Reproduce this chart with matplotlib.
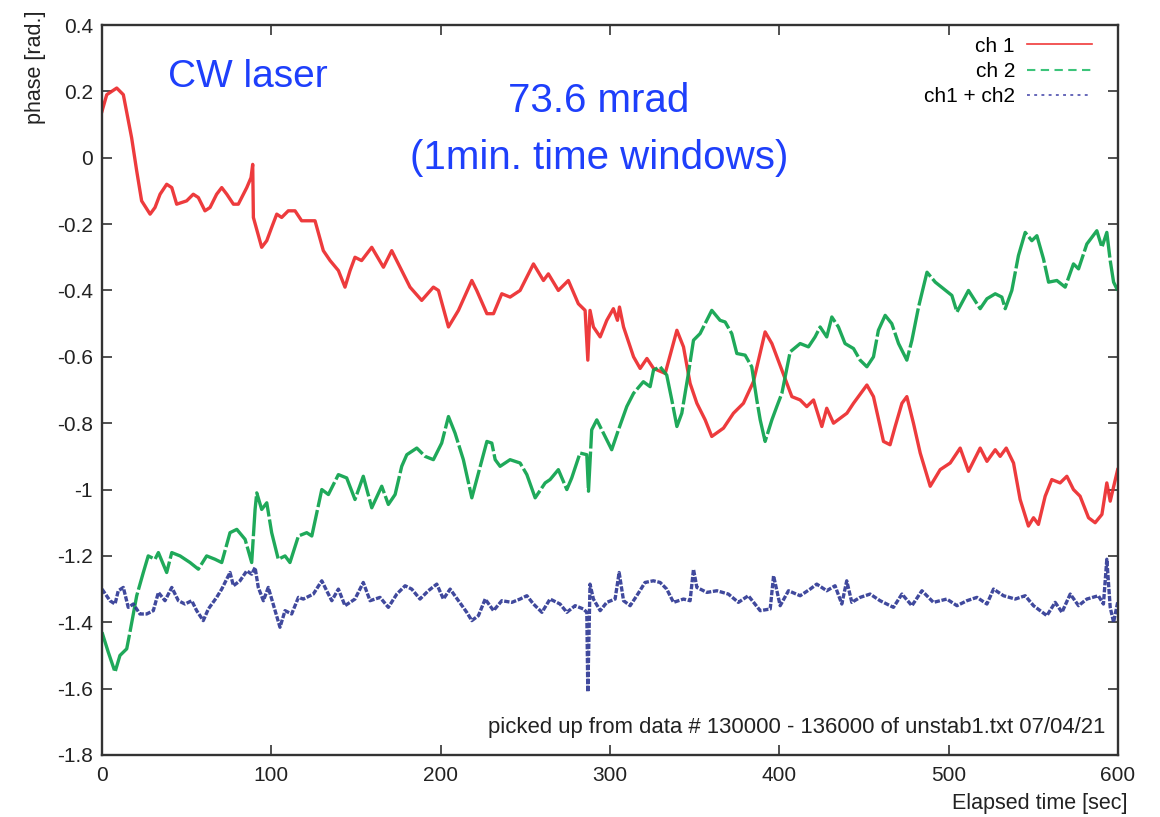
import numpy as np
import matplotlib
matplotlib.use("Agg")
import matplotlib.pyplot as plt
from matplotlib.lines import Line2D

plt.rcParams['font.family'] = ['Liberation Sans', 'DejaVu Sans']
plt.rcParams['axes.unicode_minus'] = False

# phase of channel 1 [rad.] vs elapsed time [sec]
t_ch1 = [0, 2.8, 8.7, 12.6, 17.5, 20.5, 23.4, 28.4, 31.3, 34.3, 38.2, 41.2, 44.1, 50, 53.9,
         56.9, 60.8, 63.8, 67.7, 70.7, 73.7, 77.6, 80.5, 85.5, 88.0, 89.0, 89.4, 94.3, 97.3,
         100.2, 103.2, 106.1, 110, 114, 117.9, 122.8, 125.8, 130.7, 134.7, 139.6, 143.5,
         146.5, 149.4, 153.3, 159.3, 166.2, 171.1, 177, 181.9, 188.8, 195.7, 198.7, 204.6,
         210.5, 218.4, 221.3, 227.3, 231.2, 236.1, 241, 246.9, 254.8, 260.7, 263.6, 269.5,
         275.4, 281.3, 285.3, 286.9, 288.2, 290.2, 294.2, 298.1, 302, 304.4, 305.6, 308,
         313.9, 317.8, 321.8, 325.7, 332.6, 339.5, 343.4, 347.3, 351.3, 356.2, 360.1, 367,
         372.9, 378.8, 384.7, 391.6, 395.6, 401.5, 407.4, 412.3, 416.2, 420.2, 425.1, 428,
         432, 439.9, 443.8, 451.7, 455.6, 461.5, 465.4, 468.4, 472.4, 475.3, 479.2, 483.2,
         489.1, 495, 500.9, 506.8, 511.7, 518.6, 522.6, 527.5, 530.4, 534, 538.3, 542.2,
         547.1, 550.1, 553, 557, 560.9, 565.8, 569.8, 573.7, 577.6, 582.6, 586.5, 590.5,
         593.4, 595.4, 599.8]
ch1 = [0.14, 0.19, 0.21, 0.19, 0.06, -0.04, -0.13, -0.17, -0.15, -0.11, -0.08, -0.09, -0.14,
       -0.13, -0.11, -0.12, -0.16, -0.15, -0.11, -0.09, -0.11, -0.14, -0.14, -0.09, -0.06,
       -0.02, -0.18, -0.27, -0.25, -0.21, -0.17, -0.18, -0.16, -0.16, -0.19, -0.19, -0.19,
       -0.28, -0.31, -0.34, -0.39, -0.34, -0.30, -0.31, -0.27, -0.33, -0.28, -0.34, -0.39,
       -0.43, -0.39, -0.40, -0.51, -0.46, -0.37, -0.40, -0.47, -0.47, -0.41, -0.42, -0.40,
       -0.32, -0.37, -0.35, -0.40, -0.37, -0.44, -0.46, -0.61, -0.46, -0.51, -0.54, -0.49,
       -0.455, -0.49, -0.45, -0.51, -0.60, -0.635, -0.605, -0.635, -0.65, -0.52, -0.57,
       -0.68, -0.74, -0.79, -0.84, -0.815, -0.77, -0.74, -0.675, -0.525, -0.56, -0.64,
       -0.72, -0.73, -0.75, -0.73, -0.81, -0.755, -0.80, -0.77, -0.74, -0.685, -0.72,
       -0.855, -0.865, -0.81, -0.74, -0.72, -0.80, -0.89, -0.99, -0.94, -0.92, -0.875,
       -0.945, -0.875, -0.915, -0.88, -0.90, -0.875, -0.92, -1.03, -1.11, -1.085, -1.105,
       -1.02, -0.97, -0.98, -0.96, -1.00, -1.02, -1.085, -1.10, -1.075, -0.98, -1.035, -0.94]

# phase of channel 2
t_ch2 = [0, 3.7, 7.7, 10.6, 14.6, 16.5, 20.5, 24.4, 27.3, 31.3, 33.3, 38.2, 41.2, 46.1, 52,
         56.9, 61.8, 66.7, 70.7, 75.6, 79.6, 84.5, 88.4, 90.4, 91.4, 94.3, 97.3, 100.2,
         104.1, 108.1, 111, 116, 120.9, 123.9, 129.8, 133.7, 139.6, 144.5, 149.4, 154.3,
         159.3, 165.2, 169.1, 173.1, 177, 180, 185.9, 190.8, 195.7, 200.6, 204.6, 208.5,
         213.4, 218.4, 222.3, 227.3, 230.2, 232.2, 235.1, 241, 246.9, 250.9, 255.8, 261.7,
         264.6, 269.5, 274.5, 277.4, 282.3, 286.3, 287.3, 289.2, 292.2, 297.1, 301, 305,
         309.9, 313.9, 319.7, 323.7, 325.7, 329.6, 333.5, 336.5, 339.5, 342.4, 346.3, 349.3,
         353.2, 360.1, 365, 368, 371.9, 374.9, 379.8, 383.7, 386.7, 388.7, 391.6, 395.6,
         398.5, 401.5, 406.4, 412.3, 417.2, 421.1, 424.1, 428, 431, 434.9, 438.8, 443.8,
         447.7, 451.7, 455.6, 458.5, 462.5, 466.4, 470.4, 475.3, 478.3, 482.2, 487.2, 492.1,
         497, 501.9, 504.9, 511.7, 518.6, 522.6, 527.5, 531.4, 533.4, 537.3, 541.2, 545.2,
         549.1, 552.1, 556, 559, 563.9, 568.8, 573.7, 576.7, 581.6, 587.5, 590.5, 593.4,
         595.4, 597.4, 599.8]
ch2 = [-1.43, -1.49, -1.55, -1.50, -1.48, -1.43, -1.32, -1.25, -1.20, -1.21, -1.19, -1.25,
       -1.19, -1.20, -1.22, -1.24, -1.20, -1.21, -1.22, -1.13, -1.12, -1.15, -1.22, -1.06,
       -1.01, -1.06, -1.04, -1.13, -1.21, -1.20, -1.22, -1.14, -1.13, -1.14, -1.00, -1.015,
       -0.955, -0.965, -1.03, -0.96, -1.055, -0.99, -1.045, -1.015, -0.93, -0.895, -0.875,
       -0.90, -0.91, -0.86, -0.78, -0.83, -0.91, -1.025, -0.95, -0.855, -0.86, -0.91, -0.93,
       -0.91, -0.92, -0.955, -1.025, -0.98, -0.97, -0.94, -1.00, -0.965, -0.89, -0.895,
       -1.005, -0.82, -0.79, -0.84, -0.88, -0.82, -0.75, -0.71, -0.675, -0.69, -0.64, -0.63,
       -0.655, -0.73, -0.81, -0.77, -0.65, -0.55, -0.53, -0.46, -0.49, -0.495, -0.53, -0.59,
       -0.595, -0.63, -0.73, -0.79, -0.855, -0.79, -0.75, -0.71, -0.585, -0.56, -0.57,
       -0.54, -0.51, -0.54, -0.48, -0.51, -0.56, -0.575, -0.61, -0.63, -0.60, -0.52, -0.475,
       -0.50, -0.56, -0.61, -0.55, -0.45, -0.345, -0.375, -0.395, -0.415, -0.465, -0.40,
       -0.455, -0.425, -0.41, -0.42, -0.455, -0.40, -0.295, -0.225, -0.25, -0.235, -0.305,
       -0.375, -0.37, -0.39, -0.32, -0.335, -0.26, -0.22, -0.27, -0.225, -0.31, -0.375, -0.40]

# ch1 + ch2
t_sum = [0, 4.7, 7.7, 9.6, 12.6, 15.5, 18.5, 22.4, 26.4, 30.3, 33.3, 37.2, 41.2, 45.1, 49,
         53, 55.9, 59.8, 62.8, 67.7, 70.7, 75.6, 77.6, 81.5, 85.5, 88.4, 90.4, 92.3, 95.3,
         98.2, 101.1, 105.1, 108.1, 112, 116, 118.9, 124.8, 129.8, 132.7, 135.7, 139.6,
         143.5, 149.4, 154.3, 158.3, 164.2, 169.1, 174.1, 179, 182.9, 187.8, 192.7, 197.7,
         201.6, 205.6, 210.5, 215.4, 218.4, 222.3, 226.3, 231.2, 236.1, 242, 246.9, 250.9,
         254.8, 259.8, 264.6, 270.5, 274.5, 279.4, 284.3, 286.3, 286.9, 288.2, 290.2, 294.2,
         298.1, 303, 305.4, 308, 311.9, 315.8, 320.7, 325.6, 329.6, 333.5, 337.5, 343.4,
         347.3, 349.3, 351.3, 357.2, 363.1, 369.9, 375.8, 381.7, 388.7, 394.6, 396.6, 400.5,
         405.4, 412.3, 418.2, 422.1, 428, 432.9, 436.9, 439.8, 442.8, 447.7, 453.6, 459.5,
         467.4, 472.4, 478.3, 484.2, 491, 498.9, 504.9, 510.8, 516.7, 522.6, 526.5, 532.4,
         539.3, 545.2, 550.1, 558, 562.9, 566.9, 571.8, 576.7, 581.6, 588.4, 591.4, 593.4,
         595.4, 597.4, 599.8]
ch_sum = [-1.30, -1.335, -1.345, -1.305, -1.295, -1.355, -1.345, -1.375, -1.375, -1.365,
          -1.31, -1.335, -1.295, -1.335, -1.345, -1.335, -1.365, -1.395, -1.36, -1.325,
          -1.30, -1.25, -1.29, -1.275, -1.245, -1.255, -1.235, -1.295, -1.335, -1.295,
          -1.345, -1.415, -1.365, -1.375, -1.325, -1.33, -1.315, -1.275, -1.305, -1.335,
          -1.30, -1.35, -1.33, -1.28, -1.335, -1.325, -1.355, -1.315, -1.29, -1.30, -1.33,
          -1.305, -1.285, -1.33, -1.30, -1.335, -1.37, -1.395, -1.38, -1.33, -1.365, -1.335,
          -1.34, -1.33, -1.32, -1.345, -1.37, -1.33, -1.345, -1.37, -1.35, -1.36, -1.37,
          -1.61, -1.285, -1.33, -1.365, -1.34, -1.33, -1.25, -1.335, -1.35, -1.32, -1.28,
          -1.275, -1.28, -1.30, -1.34, -1.33, -1.335, -1.24, -1.295, -1.31, -1.305, -1.315,
          -1.34, -1.32, -1.365, -1.36, -1.26, -1.35, -1.305, -1.32, -1.30, -1.285, -1.305,
          -1.29, -1.345, -1.275, -1.34, -1.325, -1.315, -1.335, -1.355, -1.315, -1.35,
          -1.305, -1.34, -1.33, -1.35, -1.335, -1.325, -1.345, -1.30, -1.32, -1.33, -1.32,
          -1.35, -1.38, -1.34, -1.37, -1.315, -1.35, -1.33, -1.32, -1.345, -1.21, -1.355,
          -1.40, -1.34]

x_ticks = [0, 100, 200, 300, 400, 500, 600]
y_ticks = [0.4, 0.2, 0, -0.2, -0.4, -0.6, -0.8, -1, -1.2, -1.4, -1.6, -1.8]
y_labels = ['0.4', '0.2', '0', '-0.2', '-0.4', '-0.6', '-0.8', '-1', '-1.2', '-1.4', '-1.6', '-1.8']

red = '#ec2a2c'
green = '#0ca24c'
navy = '#2b3592'
note_blue = '#1e3ffb'
axis_col = '#333333'

fig = plt.figure(figsize=(11.6, 8.17), dpi=100)
ax = fig.add_axes([102/1160, 1-755/817, 1016/1160, 730/817])

# thick, slightly translucent strokes for the noisy traces
ax.plot(t_ch1, ch1, color=red, lw=2.4, alpha=0.92, solid_joinstyle='round')
ax.plot(t_ch2, ch2, color=green, lw=2.4, alpha=0.92, linestyle=(0, (12, 0.9)))
ax.plot(t_sum, ch_sum, color=navy, lw=2.4, alpha=0.9, linestyle=(0, (1.6, 0.5)))

ax.set_xlim(0, 600)
ax.set_ylim(-1.8, 0.4)
ax.set_xticks(x_ticks)
ax.set_xticklabels([str(v) for v in x_ticks])
ax.set_yticks(y_ticks)
ax.set_yticklabels(y_labels)
ax.tick_params(direction='in', length=7, width=1.2, color=axis_col,
               top=True, right=True, labelsize=15, labelcolor='#222222')
ax.tick_params(axis='x', pad=8)
ax.tick_params(axis='y', pad=6.5)
for sp in ax.spines.values():
    sp.set_linewidth(1.7)
    sp.set_color(axis_col)

handles = [Line2D([], [], color='#f03a3a', lw=1.2),
           Line2D([], [], color='#3cc47a', lw=1.5, linestyle=(0, (4, 2.6))),
           Line2D([], [], color='#5a5cb4', lw=1.3, linestyle=(0, (1.6, 2.4)))]
ax.legend(handles, ['ch 1', 'ch 2', 'ch1 + ch2'], loc='upper right', markerfirst=False,
          frameon=False, fontsize=15, handlelength=3.1, handletextpad=0.6,
          labelspacing=0.3, borderpad=0, borderaxespad=0,
          bbox_to_anchor=(0.9744, 0.984))

ax.text(39, 0.243, 'CW laser', color=note_blue, fontsize=28, ha='left', va='center')
ax.text(293.6, 0.171, '73.6 mrad', color=note_blue, fontsize=29, ha='center', va='center')
ax.text(293.6, -0.001, '(1min. time windows)', color=note_blue, fontsize=29,
        ha='center', va='center')
ax.text(592.4, -1.716, 'picked up from data # 130000 - 136000 of unstab1.txt 07/04/21',
        fontsize=15.9, color='#222222', ha='right', va='center')

fig.text(1128/1160, 1-803/817, 'Elapsed time [sec]', fontsize=15.5, color='#222222',
         ha='right', va='center')
fig.text(36/1160, 1-67.5/817, 'phase [rad.]', fontsize=15.5, color='#222222',
         rotation=90, ha='center', va='center')

fig.savefig('out.png', dpi=100)
